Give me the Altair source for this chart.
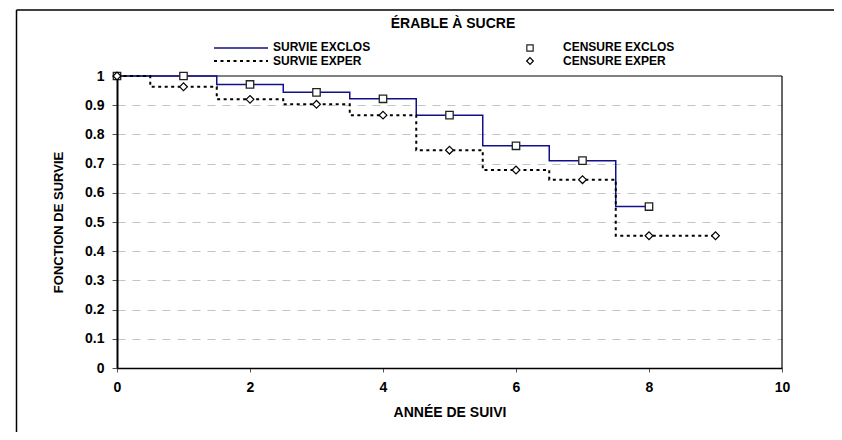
import altair as alt
import pandas as pd

# ---- data ----
exclos_step_x = [0, 1.5, 2.5, 3.5, 4.5, 5.5, 6.5, 7.5, 8]
exclos_step_y = [1.0, 0.971, 0.944, 0.922, 0.866, 0.761, 0.710, 0.553, 0.553]
exper_step_x = [0, 0.5, 1.5, 2.5, 3.5, 4.5, 5.5, 6.5, 7.5, 9]
exper_step_y = [1.0, 0.963, 0.920, 0.903, 0.866, 0.746, 0.678, 0.645, 0.453, 0.453]
exclos_cens_x = [0, 1, 2, 3, 4, 5, 6, 7, 8]
exclos_cens_y = [1.0, 1.0, 0.971, 0.944, 0.922, 0.866, 0.761, 0.710, 0.553]
exper_cens_x = [0, 1, 2, 3, 4, 5, 6, 7, 8, 9]
exper_cens_y = [1.0, 0.963, 0.920, 0.903, 0.866, 0.746, 0.678, 0.645, 0.453, 0.453]
x_ticks = [0, 2, 4, 6, 8, 10]
y_ticks = [0, 0.1, 0.2, 0.3, 0.4, 0.5, 0.6, 0.7, 0.8, 0.9, 1]
title_text = "ÉRABLE À SUCRE"
legend_labels = ["SURVIE EXCLOS", "SURVIE EXPER", "CENSURE EXCLOS", "CENSURE EXPER"]

FONT = "Liberation Sans"
W, H = 665, 292

df_exclos = pd.DataFrame({"annee": exclos_step_x, "survie": exclos_step_y})
df_exper = pd.DataFrame({"annee": exper_step_x, "survie": exper_step_y})
df_cx = pd.DataFrame({"annee": exclos_cens_x, "survie": exclos_cens_y})
df_ce = pd.DataFrame({"annee": exper_cens_x, "survie": exper_cens_y})
one = pd.DataFrame({"a": [0]})


def xenc():
    return alt.X(
        "annee:Q",
        scale=alt.Scale(domain=[0, 10], nice=False),
        axis=alt.Axis(
            values=x_ticks, grid=False, title="ANNÉE DE SUIVI",
            domainColor="black", domainWidth=1.5,
            tickColor="#555555", tickSize=4,
            labelFont=FONT, labelFontWeight="bold", labelFontSize=14,
            labelPadding=8, labelColor="black", labelFlush=False,
            titleFont=FONT, titleFontWeight="bold", titleFontSize=14,
            titleColor="black", titleY=44, titleBaseline="middle",
        ),
    )


def yenc():
    return alt.Y(
        "survie:Q",
        scale=alt.Scale(domain=[0, 1], nice=False),
        axis=alt.Axis(
            values=y_ticks, format="~g", grid=True,
            gridColor="#c4c4c4", gridDash=[8, 7], gridWidth=1,
            title="FONCTION DE SURVIE",
            domainColor="black", domainWidth=2,
            tickColor="#555555", tickSize=5,
            labelFont=FONT, labelFontWeight="bold", labelFontSize=14,
            labelPadding=8, labelColor="black", labelFlush=False,
            titleFont=FONT, titleFontWeight="bold", titleFontSize=13,
            titleColor="black", titleX=-59, titleY=146,
            titleAngle=270, titleBaseline="middle", titleAlign="center",
        ),
    )


line_exclos = alt.Chart(df_exclos).mark_line(
    interpolate="step-after", color="#10108a", strokeWidth=1.5
).encode(x=xenc(), y=yenc())

line_exper = alt.Chart(df_exper).mark_line(
    interpolate="step-after", color="black", strokeWidth=2, strokeDash=[3, 3.5]
).encode(x=xenc(), y=yenc())

pts_exclos = alt.Chart(df_cx).mark_point(
    shape="square", size=55, filled=True, fill="white", stroke="#222222",
    strokeWidth=1.3, opacity=1
).encode(x=xenc(), y=yenc())

pts_exper = alt.Chart(df_ce).mark_point(
    shape="diamond", size=60, filled=True, fill="white", stroke="black",
    strokeWidth=1.2, opacity=1
).encode(x=xenc(), y=yenc())

# plot frame: top grey border and right black border
top_border = alt.Chart(one).mark_rule(color="#808080", strokeWidth=2).encode(
    x=alt.value(0), x2=alt.value(W), y=alt.value(0))
right_border = alt.Chart(one).mark_rule(color="black", strokeWidth=1.2).encode(
    x=alt.value(W), y=alt.value(0), y2=alt.value(H))

# outer chart frame
frame_top = alt.Chart(one).mark_rule(color="black", strokeWidth=1.5).encode(
    x=alt.value(-100.5), x2=alt.value(730), y=alt.value(-66))
frame_left = alt.Chart(one).mark_rule(color="black", strokeWidth=1.5).encode(
    x=alt.value(-100.5), y=alt.value(-66), y2=alt.value(364))

# title
title = alt.Chart(one).mark_text(
    text=title_text, font=FONT, fontWeight="bold", fontSize=14,
    align="center", baseline="middle", color="black"
).encode(x=alt.value(336), y=alt.value(-52))

# legend
leg_line1 = alt.Chart(one).mark_rule(color="#10108a", strokeWidth=1.5).encode(
    x=alt.value(97), x2=alt.value(151), y=alt.value(-28))
leg_line2 = alt.Chart(one).mark_rule(color="black", strokeWidth=2, strokeDash=[3, 3.5]).encode(
    x=alt.value(97), x2=alt.value(151), y=alt.value(-15))
leg_sq = alt.Chart(one).mark_point(
    shape="square", size=40, filled=True, fill="white", stroke="#222222",
    strokeWidth=1.2, opacity=1).encode(x=alt.value(413), y=alt.value(-28))
leg_di = alt.Chart(one).mark_point(
    shape="diamond", size=45, filled=True, fill="white", stroke="black",
    strokeWidth=1.2, opacity=1).encode(x=alt.value(413), y=alt.value(-15))


def leg_text(txt, x, y):
    return alt.Chart(one).mark_text(
        text=txt, font=FONT, fontWeight="bold", fontSize=12,
        align="left", baseline="middle", color="black"
    ).encode(x=alt.value(x), y=alt.value(y))


legend = [
    leg_line1, leg_line2, leg_sq, leg_di,
    leg_text(legend_labels[0], 156, -29),
    leg_text(legend_labels[1], 156, -15),
    leg_text(legend_labels[2], 446, -29),
    leg_text(legend_labels[3], 446, -15),
]

chart = alt.layer(
    top_border, right_border, line_exclos, line_exper,
    pts_exclos, pts_exper,
    frame_top, frame_left, title, *legend
).properties(
    width=W, height=H,
    autosize=alt.AutoSizeParams(type="none"),
    padding={"left": 109, "top": 68, "right": 52, "bottom": 64},
    background="white",
).configure_view(stroke=None)

chart.save("out.html", embed_options={"renderer": "svg", "actions": False})
